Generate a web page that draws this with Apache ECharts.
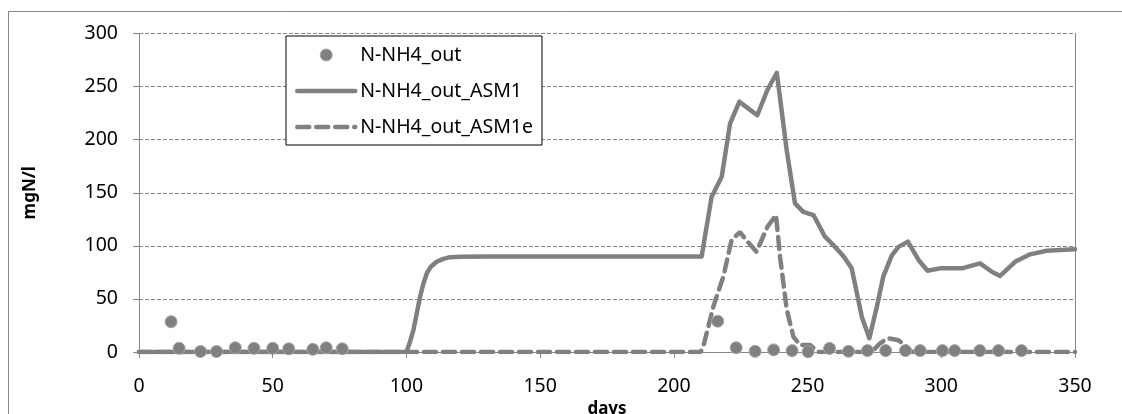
<!DOCTYPE html>
<html>
<head>
<meta charset="utf-8">
<script src="https://cdn.jsdelivr.net/npm/echarts@6/dist/echarts.min.js"></script>
<style>html,body{margin:0;padding:0;background:#fff}#c{width:1122px;height:414px}</style>
</head>
<body>
<div id="c"></div>
<script>
// Measured N-NH4 outlet (scatter)
var obsDays   = [12, 15, 23, 29, 36, 43, 50, 56, 65, 70, 76, 216.4, 223.3, 230.4, 237.3, 244.2, 250.2, 258.2, 265.3, 272.4, 279.2, 286.6, 292.1, 300.4, 305, 314.4, 321.4, 330];
var obsValues = [28.5, 3.5, 0.5, 0.5, 4, 3.5, 3.5, 3, 2.5, 4, 3, 29, 4, 0.6, 2, 1.3, 0.3, 3.4, 0.6, 1.3, 1.3, 1.3, 1.3, 1.3, 1.3, 1.3, 1.3, 1.3];

// ASM1 model (solid line)
var asm1Days   = [0, 100, 101, 102.6, 104, 105.1, 106.3, 107.6, 109, 111.3, 113.5, 116.3, 120, 130, 210.4, 214.1, 217.9, 221, 224.5, 228, 231.2, 235, 238.5, 242.2, 245.3, 248.4, 252.2, 256.5, 260.3, 263.5, 266.5, 270.3, 273.1, 275.9, 278.3, 281.5, 284, 287.5, 291.5, 294.8, 299.6, 307.7, 314.5, 318.9, 322, 327.6, 333.2, 339.4, 350];
var asm1Values = [0, 0, 7, 20.7, 38, 52, 64, 74, 80, 85, 87.5, 89.3, 89.8, 90, 90, 146, 165, 215, 235.8, 229, 223, 247, 263, 190, 140, 132, 129, 108.6, 99, 90, 78.8, 33, 13, 42.7, 71, 91, 99, 104, 86.7, 76.6, 78.8, 78.8, 83.5, 75.6, 71.6, 85, 92, 95.4, 96.7];

// ASM1e model (dashed line)
var asm1eDays   = [0, 210, 211, 214.8, 218.5, 221.6, 224.7, 227.5, 230.9, 235, 238.2, 239.7, 242.2, 244.7, 247.2, 250.9, 254, 274, 277, 280, 284, 287, 289, 350];
var asm1eValues = [0, 0, 5, 43, 71, 105.5, 113, 104, 94.5, 118, 129, 90, 40, 14.4, 6.6, 6.6, 0, 0, 8, 13, 11, 5, 0, 0];

var xTicks = [0, 50, 100, 150, 200, 250, 300, 350];
var yTicks = [0, 50, 100, 150, 200, 250, 300];

var seriesNames = ['N-NH4_out', 'N-NH4_out_ASM1', 'N-NH4_out_ASM1e'];

function pairs(xs, ys) { return xs.map(function (x, i) { return [x, ys[i]]; }); }

var FONT = 'Noto Sans';
var GREY = '#808080';
var AXIS = '#868686';
var NOSYM = { color: 'rgba(0,0,0,0)', borderColor: 'rgba(0,0,0,0)', borderWidth: 0 };

var chart = echarts.init(document.getElementById('c'), null, { renderer: 'canvas' });
chart.setOption({
  animation: false,
  backgroundColor: '#fff',
  textStyle: { fontFamily: FONT },
  graphic: [{
    type: 'rect', silent: true, z: -10,
    shape: { x: 8.5, y: 11.5, width: 1300, height: 600 },
    style: { fill: 'none', stroke: AXIS, lineWidth: 1 }
  }],
  grid: { left: 139, right: 47, top: 33.5, bottom: 62, containLabel: false, outerBoundsMode: 'none' },
  legend: {
    orient: 'vertical',
    left: 286, top: 36,
    padding: [9, 9, 8, 9],
    borderColor: '#000', borderWidth: 1,
    backgroundColor: '#fff',
    itemWidth: 58, itemHeight: 12, itemGap: 16,
    textStyle: { fontFamily: FONT, fontSize: 19.5, color: '#000', lineHeight: 20 },
    data: [
      { name: seriesNames[0], icon: 'circle', itemStyle: { color: GREY, borderColor: '#a6a6a6', borderWidth: 1, opacity: 1 } },
      { name: seriesNames[1], itemStyle: NOSYM, lineStyle: { color: GREY, width: 4.5, type: 'solid' } },
      { name: seriesNames[2], itemStyle: NOSYM, lineStyle: { color: GREY, width: 4.5, type: [12, 7] } }
    ]
  },
  xAxis: {
    type: 'value', min: 0, max: 350, interval: 50,
    name: 'days', nameLocation: 'middle', nameGap: 47,
    nameTextStyle: { fontFamily: FONT, fontSize: 17, fontWeight: 'bold', color: '#000' },
    axisLine: { show: true, onZero: false, lineStyle: { color: AXIS, width: 1 } },
    axisTick: { show: true, length: 6, lineStyle: { color: AXIS } },
    axisLabel: { fontFamily: FONT, fontSize: 19.5, color: '#000', margin: 24,
      formatter: function (v) { return xTicks.indexOf(v) >= 0 ? String(v) : ''; } },
    splitLine: { show: false }
  },
  yAxis: [{
    type: 'value', min: 0, max: 300, interval: 50,
    name: 'mgN/l', nameLocation: 'middle', nameGap: 100, nameRotate: 90,
    nameTextStyle: { fontFamily: FONT, fontSize: 17, fontWeight: 'bold', color: '#000' },
    axisLine: { show: true, lineStyle: { color: AXIS, width: 1 } },
    axisTick: { show: true, length: 6, lineStyle: { color: AXIS } },
    axisLabel: { fontFamily: FONT, fontSize: 19.5, color: '#000', margin: 21,
      formatter: function (v) { return yTicks.indexOf(v) >= 0 ? String(v) : ''; } },
    splitLine: { show: true, lineStyle: { color: AXIS, width: 1, type: [4, 2] } }
  }, {
    type: 'value', min: 0, max: 300, interval: 50, position: 'right',
    axisLine: { show: true, lineStyle: { color: AXIS, width: 1 } },
    axisTick: { show: false }, axisLabel: { show: false }, splitLine: { show: false }
  }],
  series: [
    {
      name: seriesNames[0], type: 'scatter', z: 5,
      symbol: 'circle', symbolSize: 12,
      itemStyle: { color: GREY, borderColor: '#a6a6a6', borderWidth: 1, opacity: 1 },
      data: pairs(obsDays, obsValues)
    },
    {
      name: seriesNames[1], type: 'line', z: 3, symbol: 'none', showSymbol: false,
      lineStyle: { color: GREY, width: 4.5, join: 'round', cap: 'round' },
      itemStyle: { color: GREY },
      data: pairs(asm1Days, asm1Values)
    },
    {
      name: seriesNames[2], type: 'line', z: 4, symbol: 'none', showSymbol: false,
      lineStyle: { color: GREY, width: 4.5, type: [12, 7], cap: 'round' },
      itemStyle: { color: GREY },
      data: pairs(asm1eDays, asm1eValues)
    }
  ]
});
</script>
</body>
</html>
